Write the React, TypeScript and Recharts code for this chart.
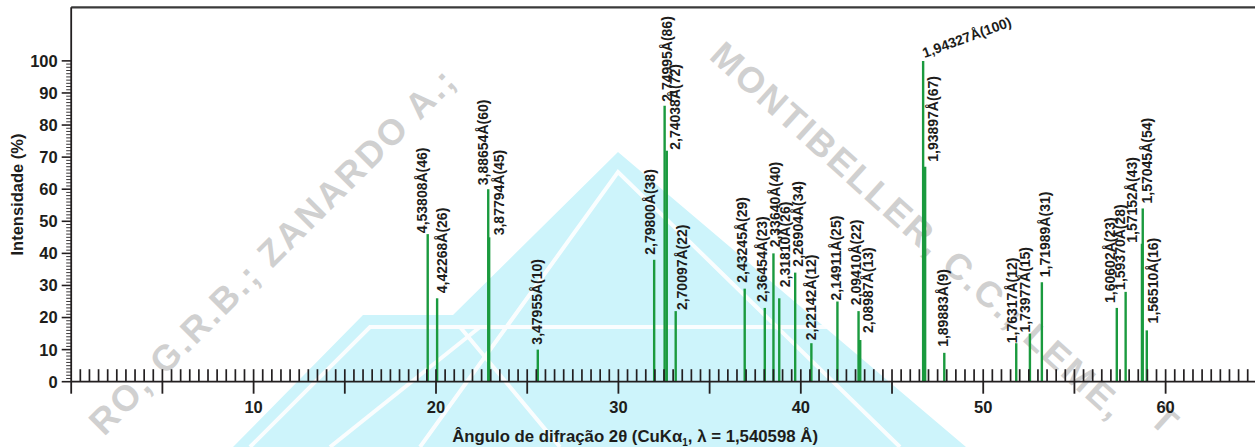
import React from 'react';
import { ComposedChart, XAxis, YAxis, ReferenceLine, Scatter } from 'recharts';

// ---- data ----
const dSpacings = [
  '4,53808', '4,42268', '3,88654', '3,87794', '3,47955', '2,79800', '2,74995', '2,74038', '2,70097',
  '2,43245', '2,36454', '2,33640', '2,31810', '2,26904', '2,22142', '2,14911', '2,09410', '2,08987',
  '1,94327', '1,93897', '1,89883', '1,76317', '1,73977', '1,71989', '1,60602', '1,59370', '1,57152',
  '1,57045', '1,56510',
];
const twoTheta = [
  19.545, 20.061, 22.863, 22.914, 25.58, 31.96, 32.534, 32.651, 33.141,
  36.924, 38.025, 38.5, 38.817, 39.691, 40.579, 42.007, 43.165, 43.257,
  46.706, 46.816, 47.866, 51.81, 52.56, 53.215, 57.323, 57.808, 58.702,
  58.746, 58.967,
];
const intensity = [
  46, 26, 60, 45, 10, 38, 86, 72, 22,
  29, 23, 40, 26, 34, 12, 25, 22, 13,
  100, 67, 9, 12, 15, 31, 23, 28, 43,
  54, 16,
];
const yTickLabels = [0, 10, 20, 30, 40, 50, 60, 70, 80, 90, 100];
const xTickLabels = [10, 20, 30, 40, 50, 60];
const xMajorStep = 5;

// ---- layout (label nudges, px) ----
const LABEL_DX = [
  -6, 5, -5, 10, -1, -4, 2, 8, 6,
  -3, -3, 2, 6, 3, 0, -1, -3, 8,
  0, 8, -1, -4.5, -5, 3, -7, -5.6, -10,
  4, 6,
];
const LABEL_GAP = [
  1, 5, 4, 2, 5, 5, 4, 1, 1,
  6, 6, 6, 11, 6, 3, 1, 6, 7,
  3, 5, 6, 0, 1, 5, 5, 2, 1,
  5, 7,
];
const TILTED_LABEL = 18;

const FONT = '"Liberation Sans", Arial, Helvetica, sans-serif';
const GREEN = '#1a9a3e';
const AXIS = '#231f20';
const TEXT = '#1d1d1b';
const X_MAX = 64.9;
const Y_MAX = 116.7;

const peaks = dSpacings.map((d, i) => ({
  x: twoTheta[i],
  y: intensity[i],
  label: `${d}Å(${intensity[i]})`,
  idx: i,
}));

const xTicks: number[] = [];
for (let v = 0; v <= 64.5 + 1e-9; v += 0.5) xTicks.push(Math.round(v * 10) / 10);
const yTicks: number[] = [];
for (let v = 0; v <= 100; v += 1) yTicks.push(v);

const XTick = (props: any) => {
  const { x, y, payload } = props;
  const v = payload.value;
  const major = Math.abs(v / xMajorStep - Math.round(v / xMajorStep)) < 1e-6;
  const labelled = xTickLabels.includes(v);
  return (
    <g>
      {v > 0 && <line x1={x} x2={x} y1={y - 12.5} y2={y} stroke={AXIS} strokeWidth={1.7} />}
      {major && <line x1={x} x2={x} y1={y} y2={y + 12} stroke={AXIS} strokeWidth={1.8} />}
      {labelled && (
        <text x={x} y={y + 31.5} textAnchor="middle" fontFamily={FONT} fontWeight={700} fontSize={16.5} fill={TEXT}>
          {v}
        </text>
      )}
    </g>
  );
};

const YTick = (props: any) => {
  const { x, y, payload } = props;
  const v = payload.value;
  const major = yTickLabels.includes(v);
  return (
    <g>
      <line x1={x - (major ? 9.5 : 5)} x2={x} y1={y} y2={y} stroke={AXIS} strokeWidth={major ? 1.6 : 0.9} />
      {major && (
        <text x={x - 13.5} y={y} dy="0.36em" textAnchor="end" fontFamily={FONT} fontWeight={700} fontSize={16.5} fill={TEXT}>
          {v}
        </text>
      )}
    </g>
  );
};

const PeakLabel = (props: any) => {
  const { cx, cy, payload } = props;
  if (cx == null || cy == null || !payload) return <g />;
  const i = payload.idx;
  const common = { fontFamily: FONT, fontWeight: 700, fontSize: 14, fill: TEXT } as any;
  if (i === TILTED_LABEL) {
    const bx = cx + 1.5;
    const by = cy - LABEL_GAP[i];
    return (
      <text x={bx} y={by} transform={`rotate(-20, ${bx}, ${by})`} {...common}>
        {payload.label}
      </text>
    );
  }
  const bx = cx + LABEL_DX[i] + 5;
  const by = cy - LABEL_GAP[i];
  return (
    <text x={bx} y={by} transform={`rotate(-90, ${bx}, ${by})`} {...common}>
      {payload.label}
    </text>
  );
};

const YTitle = (props: any) => {
  const vb = props.viewBox || { x: 0, y: 7.3, width: 71.2, height: 374.4 };
  const x = vb.x + 23;
  const y = vb.y + vb.height / 2;
  return (
    <text x={x} y={y} transform={`rotate(-90, ${x}, ${y})`} textAnchor="middle" fontFamily={FONT} fontWeight={700} fontSize={16.5} fill={TEXT}>
      Intensidade (%)
    </text>
  );
};

const XTitle = (props: any) => {
  const vb = props.viewBox || { x: 71.2, y: 381.7, width: 1183.8, height: 65.3 };
  const x = vb.x + vb.width / 2 - 28;
  const y = vb.y + 60;
  return (
    <text x={x} y={y} textAnchor="middle" fontFamily={FONT} fontWeight={700} fontSize={16.8} fill={TEXT}>
      Ângulo de difração 2θ (CuKα
      <tspan dy={4} fontSize={10}>1</tspan>
      <tspan dy={-4}>, λ = 1,540598 Å)</tspan>
    </text>
  );
};

const Watermark = () => (
  <svg width={1255} height={447} style={{ position: 'absolute', left: 0, top: 0 }}>
    <polygon points="233,447 363,315 453,315 618,152 966,447" fill="#cdf4fb" />
    <g stroke="#ffffff" strokeWidth={4} fill="none" opacity={0.9}>
      <polyline points="250,447 370,327 900,327" />
      <polyline points="420,447 618,172 900,447" />
      <line x1="330" y1="447" x2="480" y2="327" />
      <line x1="560" y1="447" x2="460" y2="327" />
    </g>
    <g fontFamily={FONT} fontWeight={700} fontSize={36} fill="#d0d0d0" letterSpacing={2.5}>
      <g transform="translate(708 58) rotate(42)">
        <text x={0} y={0}>MONTIBELLER, C.C.; LEME,</text>
        <text x={570} y={-24}>T</text>
      </g>
      <g transform="translate(104 437) rotate(-45)">
        <text x={0} y={0}>RO,</text>
        <text x={86} y={0}>G.R.B.; ZANARDO A.;</text>
      </g>
    </g>
  </svg>
);

export default function App() {
  return (
    <div style={{ position: 'absolute', left: 0, top: 0, width: 1255, height: 447, overflow: 'hidden', background: '#ffffff' }}>
      <Watermark />
      <div style={{ position: 'absolute', left: 0, top: 0 }}>
        <ComposedChart width={1255} height={447} margin={{ top: 7.3, right: 0, bottom: 0, left: 0 }}>
          <XAxis
            type="number"
            dataKey="x"
            domain={[0, X_MAX]}
            allowDataOverflow
            ticks={xTicks}
            interval={0}
            tickSize={0}
            tickMargin={0}
            tickLine={false}
            tick={<XTick />}
            height={65.3}
            axisLine={{ stroke: AXIS, strokeWidth: 1.8 }}
            label={{ content: <XTitle /> } as any}
          />
          <YAxis
            type="number"
            dataKey="y"
            domain={[0, Y_MAX]}
            allowDataOverflow
            ticks={yTicks}
            interval={0}
            tickSize={0}
            tickMargin={0}
            tickLine={false}
            tick={<YTick />}
            width={71.2}
            axisLine={{ stroke: AXIS, strokeWidth: 1.8 }}
            label={{ content: <YTitle /> } as any}
          />
          <ReferenceLine y={Y_MAX} stroke="#3a3a3a" strokeWidth={2.2} ifOverflow="visible" />
          {peaks.map((p) => (
            <ReferenceLine
              key={p.idx}
              segment={[{ x: p.x, y: 0 }, { x: p.x, y: p.y }]}
              stroke={GREEN}
              strokeWidth={2.4}
              ifOverflow="visible"
            />
          ))}
          <Scatter data={peaks} dataKey="y" isAnimationActive={false} shape={<PeakLabel />} />
        </ComposedChart>
      </div>
    </div>
  );
}
